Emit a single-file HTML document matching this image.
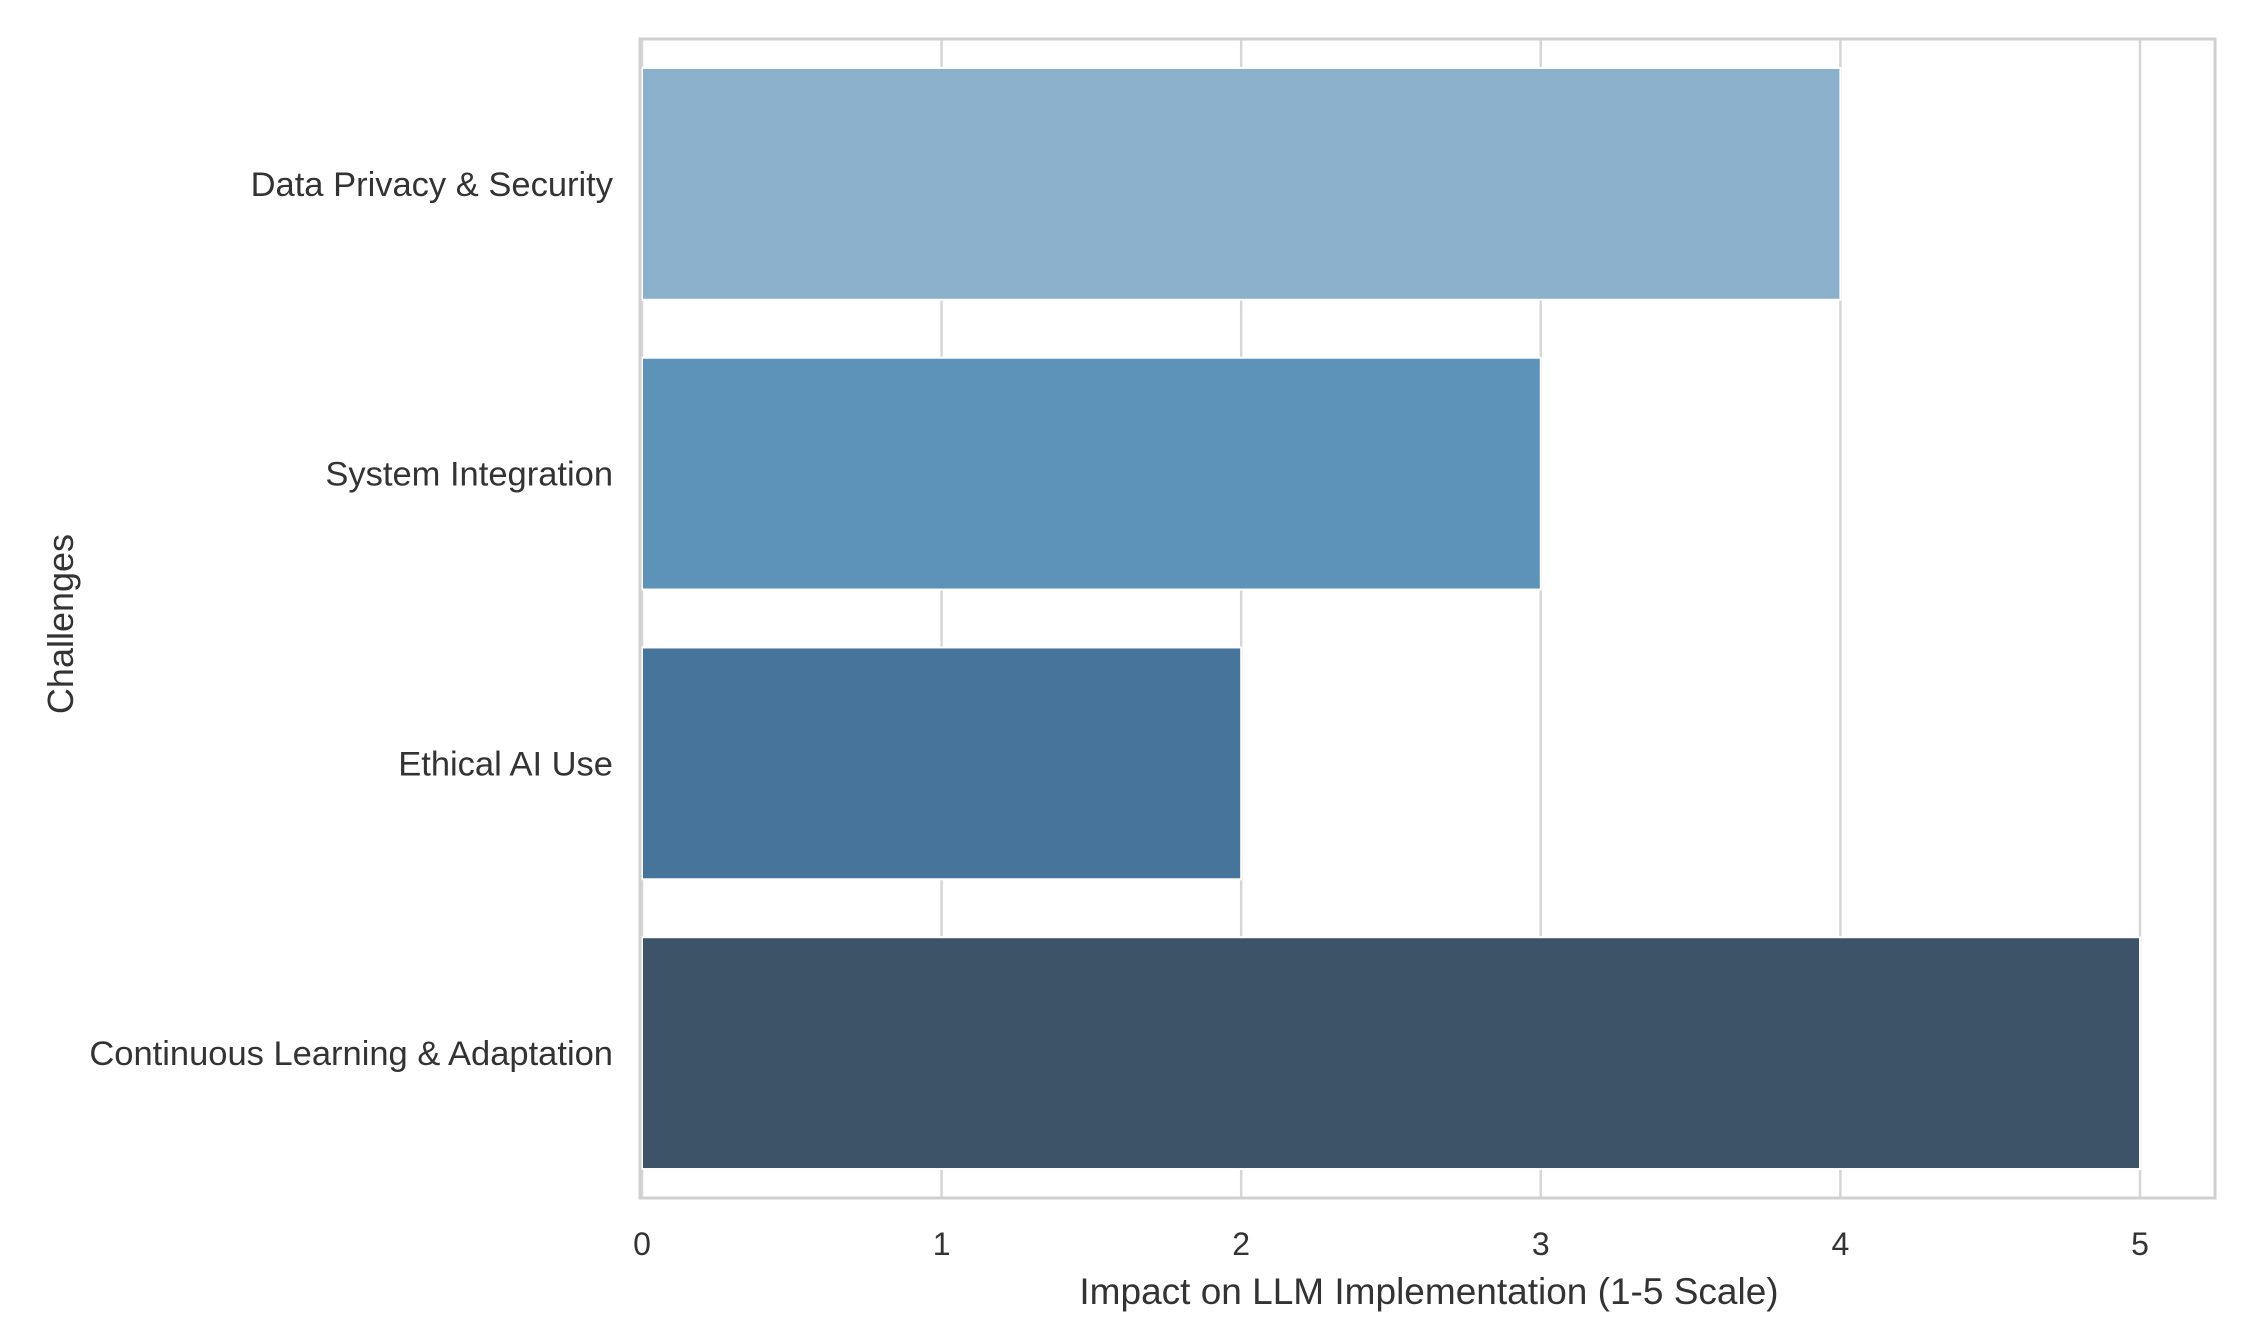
<!DOCTYPE html>
<html><head><meta charset="utf-8"><style>
html,body{margin:0;padding:0;background:#fff;}
svg{display:block;font-family:"Liberation Sans",Arial,sans-serif;}
</style></head><body>
<svg id="chart" width="2248" height="1344" viewBox="0 0 2248 1344"></svg>
<script>
const categories = ["Data Privacy & Security","System Integration","Ethical AI Use","Continuous Learning & Adaptation"];
const values = [4,3,2,5];
const colors = ["#8AB0CB","#5E93B9","#46749A","#3C5368"];
const xTicks = [0,1,2,3,4,5];
const xTitle = "Impact on LLM Implementation (1-5 Scale)";
const yTitle = "Challenges";

const NS="http://www.w3.org/2000/svg";
const svg=document.getElementById('chart');
const L=640,R=2215,T=39,B=1198;
const x0=642,unit=299.6;
const xs=v=>x0+v*unit;
const band=(B-T)/categories.length;
const yc=i=>T+band*(i+0.5);
function mk(tag,attrs){const e=document.createElementNS(NS,tag);for(const k in attrs)e.setAttribute(k,attrs[k]);svg.appendChild(e);return e;}

xTicks.forEach(t=>{
  const g=mk('line',{x1:xs(t),x2:xs(t),y1:T,y2:B,stroke:'#d6d6d6','stroke-width':2.5});
  
  
  const lb=mk('text',{x:xs(t),y:1255,'text-anchor':'middle','font-size':32,fill:'#333'});
  lb.textContent=t;
  
  
});
categories.forEach((c,i)=>{
  const h=band*0.8;
  const r=mk('rect',{x:xs(0),y:yc(i)-h/2,width:xs(values[i])-xs(0),height:h,fill:colors[i],stroke:'#fff','stroke-width':2});
  
  
  const lb=mk('text',{x:613,y:yc(i)+12,'text-anchor':'end','font-size':34.5,fill:'#333'});
  lb.textContent=c;
  
  
});
const fr=mk('rect',{x:L,y:T,width:R-L,height:B-T,fill:'none',stroke:'#d0d0d0','stroke-width':3});


const xt=mk('text',{x:1429,y:1304,'text-anchor':'middle','font-size':37,fill:'#333'});
xt.textContent=xTitle;


const yt=mk('text',{x:0,y:0,'text-anchor':'middle','font-size':36,fill:'#333',transform:'translate(73,624) rotate(-90)'});
yt.textContent=yTitle;


</script>
</body></html>
